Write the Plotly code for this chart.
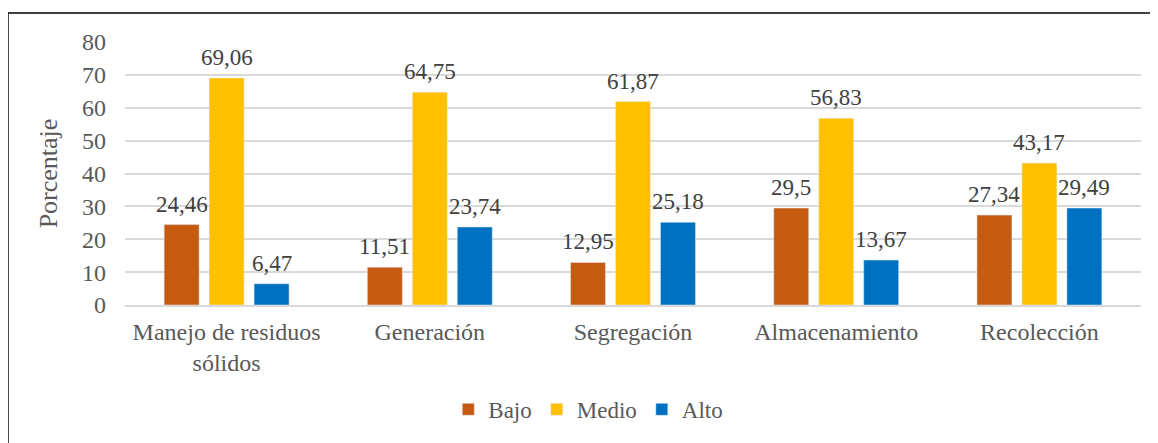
import plotly.graph_objects as go

categories = ["Manejo de residuos<br>sólidos", "Generación", "Segregación", "Almacenamiento", "Recolección"]
bajo = [24.46, 11.51, 12.95, 29.5, 27.34]
medio = [69.06, 64.75, 61.87, 56.83, 43.17]
alto = [6.47, 23.74, 25.18, 13.67, 29.49]
bajo_txt = ["24,46", "11,51", "12,95", "29,5", "27,34"]
medio_txt = ["69,06", "64,75", "61,87", "56,83", "43,17"]
alto_txt = ["6,47", "23,74", "25,18", "13,67", "29,49"]

font = "Liberation Serif, Times New Roman, serif"
grey = "#595959"

series = [("Bajo", bajo, bajo_txt, "#C55A11"),
          ("Medio", medio, medio_txt, "#FFC000"),
          ("Alto", alto, alto_txt, "#0070C0")]

fig = go.Figure()
for name, vals, txt, col in series:
    fig.add_trace(go.Bar(x=categories, y=vals, name=name, marker_color=col))

# data labels, set a bit above the bar tops like Excel does
slot = 45  # px between bar centres in a group
for i, (name, vals, txt, col) in enumerate(series):
    for c, v, t in zip(categories, vals, txt):
        fig.add_annotation(x=c, y=v, text=t, showarrow=False, xshift=(i - 1) * slot,
                           yanchor="bottom", yshift=6,
                           font=dict(family=font, size=23, color="#404040"))

# page body adds ~8px offset, so the figure is a bit smaller than the window
fig.update_layout(
    width=1150, height=435,
    margin=dict(l=117, r=17, t=34, b=138),
    paper_bgcolor="white", plot_bgcolor="white",
    barmode="group", bargap=0.336, bargroupgap=0.222,
    font=dict(family=font, size=24, color=grey),
    legend=dict(orientation="h", x=0.456, xanchor="center", y=-0.397, yanchor="middle",
                font=dict(family=font, size=23, color=grey), itemwidth=30),
    showlegend=True,
)
fig.update_yaxes(range=[0, 80], dtick=10, showgrid=True, gridcolor="#D9D9D9", gridwidth=1.5,
                 zeroline=False, showline=False, ticks="", ticklabelstandoff=18,
                 tickfont=dict(family=font, size=24, color=grey),
                 title=dict(text="Porcentaje", font=dict(family=font, size=26, color=grey), standoff=16))
fig.update_xaxes(showline=True, linecolor="#D9D9D9", linewidth=1.5, ticks="", ticklabelstandoff=4,
                 tickfont=dict(family=font, size=24, color=grey))

# chart frame (top and left edges visible)
fig.add_shape(type="rect", xref="paper", yref="paper", x0=-0.1152, x1=1.03, y0=-0.6, y1=1.11,
              line=dict(color="black", width=1.5), layer="below")

fig.write_html("out.html")
